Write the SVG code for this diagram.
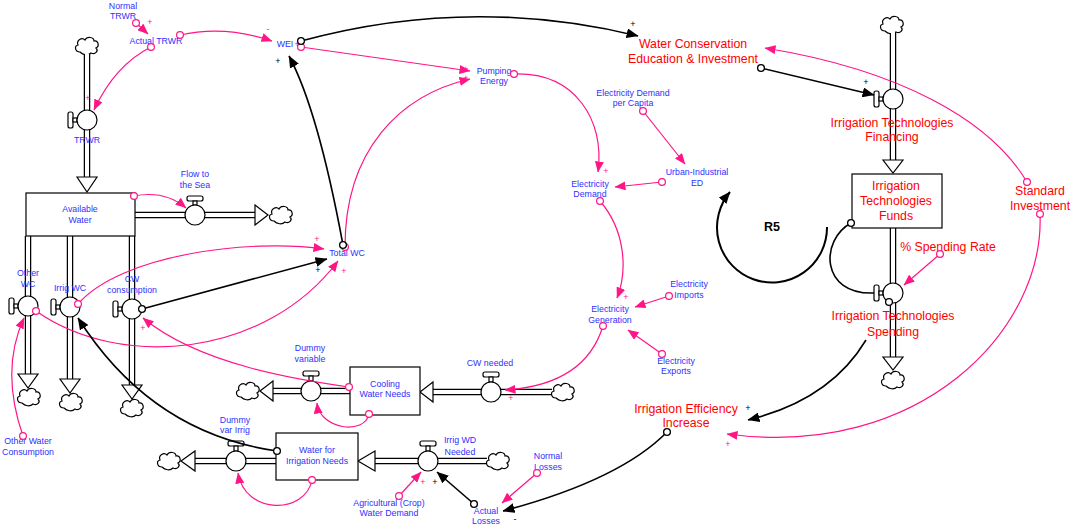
<svg xmlns="http://www.w3.org/2000/svg" width="1072" height="526" viewBox="0 0 1072 526">
<defs>
<style>
text{font-family:"Liberation Sans",Arial,sans-serif}
.b{fill:#2f2fff;font-size:8.8px;text-anchor:middle}
.r{fill:#ff0000;font-size:12.3px;text-anchor:middle}
.po{stroke:#000;stroke-width:6.5;fill:none}
.pi{stroke:#fff;stroke-width:4;fill:none}
.ah{fill:#fff;stroke:#000;stroke-width:1.2}
.vc{fill:#fff;stroke:#000;stroke-width:1.2}
.box{fill:#fff;stroke:#000;stroke-width:1.2}
.cl{fill:#fff;stroke:#000;stroke-width:1.2}
.lp{stroke:#ff1585;stroke-width:1.2;fill:none;marker-start:url(#rp);marker-end:url(#ap)}
.lk{stroke:#000;stroke-width:1.6;fill:none;marker-start:url(#rk);marker-end:url(#ak)}
.sp{fill:#ff1585;font-size:9px;text-anchor:middle}
.sk{fill:#000;font-size:9px;text-anchor:middle}
</style>
<path id="cloud" d="M-7,6 C-12,6 -13,0 -9,-1 C-11,-6 -5,-9 -2,-6 C0,-10 7,-9 7,-5 C11,-6 13,0 9,2 C12,5 8,9 4,7 C1,10 -4,9 -7,6 Z"/>
<marker id="ap" viewBox="0 0 11 9" refX="10.5" refY="4.5" markerWidth="11" markerHeight="9" orient="auto" markerUnits="userSpaceOnUse"><path d="M0,0 L11,4.5 L0,9 z" fill="#ff1585"/></marker>
<marker id="ak" viewBox="0 0 12 10" refX="11.5" refY="5" markerWidth="12" markerHeight="10" orient="auto" markerUnits="userSpaceOnUse"><path d="M0,0 L12,5 L0,10 z" fill="#000"/></marker>
<marker id="rp" viewBox="-5 -5 10 10" refX="0" refY="0" markerWidth="10" markerHeight="10" markerUnits="userSpaceOnUse"><circle r="3.4" fill="#fff" stroke="#ff1585" stroke-width="1.2"/></marker>
<marker id="rk" viewBox="-5 -5 10 10" refX="0" refY="0" markerWidth="10" markerHeight="10" markerUnits="userSpaceOnUse"><circle r="3.4" fill="#fff" stroke="#000" stroke-width="1.3"/></marker>
</defs>
<rect width="1072" height="526" fill="#fff"/>

<!-- flows (pipes, valves, clouds) -->
<g id="flow_trwr">
<use href="#cloud" x="87" y="46" class="cl"/>
<path class="po" d="M87,54 V177"/><path class="pi" d="M87,54 V178"/>
<polygon class="ah" points="77,177 97,177 87,192"/>
<rect class="vc" x="68" y="112" width="5" height="16" rx="2"/><rect class="vc" x="73" y="118" width="4" height="4"/>
<circle class="vc" cx="87" cy="120" r="10"/>
<text class="b" x="87" y="143">TRWR</text>
</g>
<g id="flow_to_sea">
<path class="po" d="M135,215 H255"/><path class="pi" d="M134,215 H256"/>
<polygon class="ah" points="255,205 255,225 268,215"/>
<use href="#cloud" x="281" y="215" class="cl"/>
<rect class="vc" x="187" y="196" width="16" height="5" rx="2"/><rect class="vc" x="193" y="201" width="4" height="4"/>
<circle class="vc" cx="195" cy="215" r="10"/>
<text class="b" x="195" y="177">Flow to</text><text class="b" x="195" y="188">the Sea</text>
</g>
<g id="flow_other_wc">
<path class="po" d="M28,236 V374"/><path class="pi" d="M28,235 V375"/>
<polygon class="ah" points="18,374 38,374 28,388"/>
<use href="#cloud" x="29" y="397" class="cl"/>
<rect class="vc" x="9" y="298" width="5" height="16" rx="2"/><rect class="vc" x="14" y="304" width="4" height="4"/>
<circle class="vc" cx="28" cy="306" r="10"/>
<text class="b" x="28" y="276">Other</text><text class="b" x="28" y="287">WC</text>
</g>
<g id="flow_irrig_wc">
<path class="po" d="M70,236 V379"/><path class="pi" d="M70,235 V380"/>
<polygon class="ah" points="60,379 80,379 70,393"/>
<use href="#cloud" x="71" y="402" class="cl"/>
<rect class="vc" x="51" y="299" width="5" height="16" rx="2"/><rect class="vc" x="56" y="305" width="4" height="4"/>
<circle class="vc" cx="70" cy="307" r="10"/>
<text class="b" x="70" y="291">Irrig WC</text>
</g>
<g id="flow_cw_consumption">
<path class="po" d="M132,236 V385"/><path class="pi" d="M132,235 V386"/>
<polygon class="ah" points="122,385 142,385 132,399"/>
<use href="#cloud" x="132" y="408" class="cl"/>
<rect class="vc" x="113" y="301" width="5" height="16" rx="2"/><rect class="vc" x="118" y="307" width="4" height="4"/>
<circle class="vc" cx="132" cy="309" r="10"/>
<text class="b" x="132" y="282">CW</text><text class="b" x="132" y="293">consumption</text>
</g>
<g id="flow_dummy_variable">
<path class="po" d="M350,391 H273"/><path class="pi" d="M351,391 H272"/>
<polygon class="ah" points="273,381 273,401 260,391"/>
<use href="#cloud" x="248" y="391" class="cl"/>
<rect class="vc" x="303" y="371" width="16" height="5" rx="2"/><rect class="vc" x="309" y="376" width="4" height="5"/>
<circle class="vc" cx="311" cy="391" r="10"/>
<text class="b" x="310" y="351">Dummy</text><text class="b" x="310" y="362">variable</text>
</g>
<g id="flow_cw_needed">
<path class="po" d="M552,392 H433"/><path class="pi" d="M553,392 H432"/>
<polygon class="ah" points="433,382 433,402 420,392"/>
<use href="#cloud" x="563" y="392" class="cl"/>
<rect class="vc" x="483" y="372" width="16" height="5" rx="2"/><rect class="vc" x="489" y="377" width="4" height="5"/>
<circle class="vc" cx="491" cy="392" r="10"/>
<text class="b" x="490" y="366">CW needed</text>
</g>
<g id="flow_dummy_var_irrig">
<path class="po" d="M276,461 H195"/><path class="pi" d="M277,461 H194"/>
<polygon class="ah" points="195,451 195,471 181,461"/>
<use href="#cloud" x="169" y="461" class="cl"/>
<rect class="vc" x="228" y="441" width="16" height="5" rx="2"/><rect class="vc" x="234" y="446" width="4" height="5"/>
<circle class="vc" cx="236" cy="461" r="10"/>
<text class="b" x="235" y="423">Dummy</text><text class="b" x="235" y="433">var Irrig</text>
</g>
<g id="flow_irrig_wd_needed">
<path class="po" d="M487,461 H375"/><path class="pi" d="M488,461 H374"/>
<polygon class="ah" points="375,451 375,471 358,461"/>
<use href="#cloud" x="498" y="461" class="cl"/>
<rect class="vc" x="420" y="441" width="16" height="5" rx="2"/><rect class="vc" x="426" y="446" width="4" height="5"/>
<circle class="vc" cx="428" cy="461" r="10"/>
<text class="b" x="460" y="443">Irrig WD</text><text class="b" x="460" y="455">Needed</text>
</g>
<g id="flow_irr_tech_financing">
<use href="#cloud" x="892" y="25" class="cl"/>
<path class="po" d="M893,33 V160"/><path class="pi" d="M893,32 V161"/>
<polygon class="ah" points="883,160 903,160 893,173"/>
<rect class="vc" x="874" y="91" width="5" height="16" rx="2"/><rect class="vc" x="879" y="97" width="4" height="4"/>
<circle class="vc" cx="893" cy="99" r="10"/>
<text class="r" x="892" y="127">Irrigation Technologies</text><text class="r" x="892" y="141">Financing</text>
</g>
<g id="flow_irr_tech_spending">
<path class="po" d="M893,228 V357"/><path class="pi" d="M893,227 V358"/>
<polygon class="ah" points="883,357 903,357 893,370"/>
<use href="#cloud" x="893" y="380" class="cl"/>
<rect class="vc" x="874" y="285" width="5" height="16" rx="2"/><rect class="vc" x="879" y="291" width="4" height="4"/>
<circle class="vc" cx="893" cy="293" r="10"/>
<circle cx="889" cy="302" r="3.4" fill="#fff" stroke="#000" stroke-width="1.3"/>
<text class="r" x="893" y="320">Irrigation Technologies</text><text class="r" x="893" y="336">Spending</text>
</g>

<!-- stocks -->
<g id="stock_available_water">
<rect class="box" x="26" y="193" width="109" height="43"/>
<text class="b" x="80" y="212">Available</text><text class="b" x="80" y="223">Water</text>
</g>
<g id="stock_irr_tech_funds">
<rect class="box" x="852" y="174" width="90" height="54"/>
<text class="r" x="896" y="190">Irrigation</text><text class="r" x="896" y="205">Technologies</text><text class="r" x="896" y="220">Funds</text>
</g>
<g id="stock_cooling_water_needs">
<rect class="box" x="350" y="367" width="70" height="48"/>
<text class="b" x="385" y="387">Cooling</text><text class="b" x="385" y="397">Water Needs</text>
</g>
<g id="stock_water_irrigation_needs">
<rect class="box" x="276" y="433" width="82" height="47"/>
<text class="b" x="317" y="453">Water for</text><text class="b" x="317" y="464">Irrigation Needs</text>
</g>

<!-- auxiliaries -->
<g id="aux_normal_trwr"><text class="b" x="123" y="9">Normal</text><text class="b" x="123" y="19">TRWR</text></g>
<g id="aux_actual_trwr"><text class="b" x="156" y="44">Actual TRWR</text></g>
<g id="aux_wei"><text class="b" x="285" y="47">WEI</text></g>
<g id="aux_total_wc"><text class="b" x="347" y="256">Total WC</text></g>
<g id="aux_pumping_energy"><text class="b" x="494" y="74">Pumping</text><text class="b" x="494" y="84">Energy</text></g>
<g id="aux_elec_demand_capita"><text class="b" x="633" y="96">Electricity Demand</text><text class="b" x="633" y="106">per Capita</text></g>
<g id="aux_urban_ed"><text class="b" x="697" y="175">Urban-Industrial</text><text class="b" x="697" y="186">ED</text></g>
<g id="aux_elec_demand"><text class="b" x="590" y="187">Electricity</text><text class="b" x="590" y="197">Demand</text></g>
<g id="aux_elec_generation"><text class="b" x="610" y="312">Electricity</text><text class="b" x="610" y="323">Generation</text></g>
<g id="aux_elec_imports"><text class="b" x="689" y="287">Electricity</text><text class="b" x="689" y="298">Imports</text></g>
<g id="aux_elec_exports"><text class="b" x="676" y="364">Electricity</text><text class="b" x="676" y="374">Exports</text></g>
<g id="aux_normal_losses"><text class="b" x="548" y="459">Normal</text><text class="b" x="548" y="470">Losses</text></g>
<g id="aux_actual_losses"><text class="b" x="486" y="514">Actual</text><text class="b" x="486" y="524">Losses</text></g>
<g id="aux_agri_demand"><text class="b" x="389" y="506">Agricultural (Crop)</text><text class="b" x="389" y="516">Water Demand</text></g>
<g id="aux_other_water_consumption"><text class="b" x="28" y="444">Other Water</text><text class="b" x="28" y="455">Consumption</text></g>
<g id="aux_water_conservation"><text class="r" x="693" y="48">Water Conservation</text><text class="r" x="693" y="63">Education &amp; Investment</text></g>
<g id="aux_spending_rate"><text class="r" x="948" y="251">% Spending Rate</text></g>
<g id="aux_standard_investment"><text class="r" x="1040" y="195">Standard</text><text class="r" x="1040" y="210">Investment</text></g>
<g id="aux_irr_efficiency"><text class="r" x="686" y="413">Irrigation Efficiency</text><text class="r" x="686" y="427">Increase</text></g>
<g id="loop_r5">
<path d="M827,227 A55,55 0 1 1 730,192" fill="none" stroke="#000" stroke-width="2" marker-end="url(#ak)"/>
<text x="772" y="231" font-size="12.5" font-weight="bold" text-anchor="middle" fill="#000">R5</text>
</g>

<!-- connectors -->
<g id="connectors">
<path class="lp" d="M136,23 L148,34"/>
<path class="lp" d="M180,35 Q225,25 272,41"/>
<path class="lp" d="M151,47 Q115,65 94,110"/>
<path class="lp" d="M301,47 L470,71"/>
<path class="lp" d="M345,247 C345,150 400,95 470,79"/>
<path class="lp" d="M514,74 C575,72 605,120 598,172"/>
<path class="lp" d="M643,111 L685,164"/>
<path class="lp" d="M662,182 L615,187"/>
<path class="lp" d="M600,201 C625,230 628,270 617,298"/>
<path class="lp" d="M669,296 L635,307"/>
<path class="lp" d="M662,354 L628,330"/>
<path class="lp" d="M603,326 Q585,385 505,390"/>
<path class="lp" d="M134,196 Q165,190 186,208"/>
<path class="lp" d="M78,304 C120,255 250,238 324,249"/>
<path class="lp" d="M36,311 C120,370 265,358 338,261"/>
<path class="lp" d="M23,436 Q0,370 24,318"/>
<path class="lp" d="M349,387 C300,380 200,365 143,318"/>
<path class="lp" d="M369,414 C365,435 320,430 317,403"/>
<path class="lp" d="M312,480 C305,515 245,515 238,473"/>
<path class="lp" d="M399,496 L421,472"/>
<path class="lp" d="M537,473 L502,503"/>
<path class="lp" d="M1040,214 C1045,330 920,460 727,434"/>
<path class="lp" d="M1027,182 C990,120 900,70 765,48"/>
<path class="lp" d="M940,254 L904,285"/>
<path class="lk" d="M301,41 Q470,-5 638,36"/>
<path class="lk" d="M343,245 Q318,110 289,56"/>
<path class="lk" d="M142,309 L327,259"/>
<path class="lk" d="M277,451 C200,440 130,400 78,318"/>
<path class="lk" d="M474,504 L437,472"/>
<path class="lk" d="M667,432 Q620,480 503,511"/>
<path class="lk" d="M866,340 Q830,400 748,420" style="marker-start:none"/>
<path class="lk" d="M761,68 L874,95"/>
<path class="lk" d="M851,223 C820,240 820,295 874,293" style="marker-end:none"/>
</g>

<!-- polarity signs -->
<g id="signs">
<text class="sp" x="150" y="25">+</text>
<text class="sp" x="88" y="101">+</text>
<text class="sp" x="268" y="32">-</text>
<text class="b" x="297" y="47">+</text>
<text class="sp" x="466" y="72">+</text>
<text class="sp" x="466" y="81">+</text>
<text class="sp" x="317" y="242">+</text>
<text class="sp" x="344" y="274">+</text>
<text class="sp" x="143" y="331">+</text>
<text class="sp" x="606" y="174">+</text>
<text class="sp" x="626" y="300">+</text>
<text class="sp" x="511" y="401">+</text>
<text class="sp" x="423" y="485">+</text>
<text class="sp" x="728" y="447">+</text>
<text class="sk" x="278" y="64">+</text>
<text class="sk" x="633" y="27">+</text>
<text class="sk" x="318" y="273">+</text>
<text class="sk" x="866" y="85">+</text>
<text class="sk" x="435" y="485">+</text>
<text class="sk" x="748" y="411">+</text>
<text class="sk" x="515" y="522">-</text>
</g>
</svg>
